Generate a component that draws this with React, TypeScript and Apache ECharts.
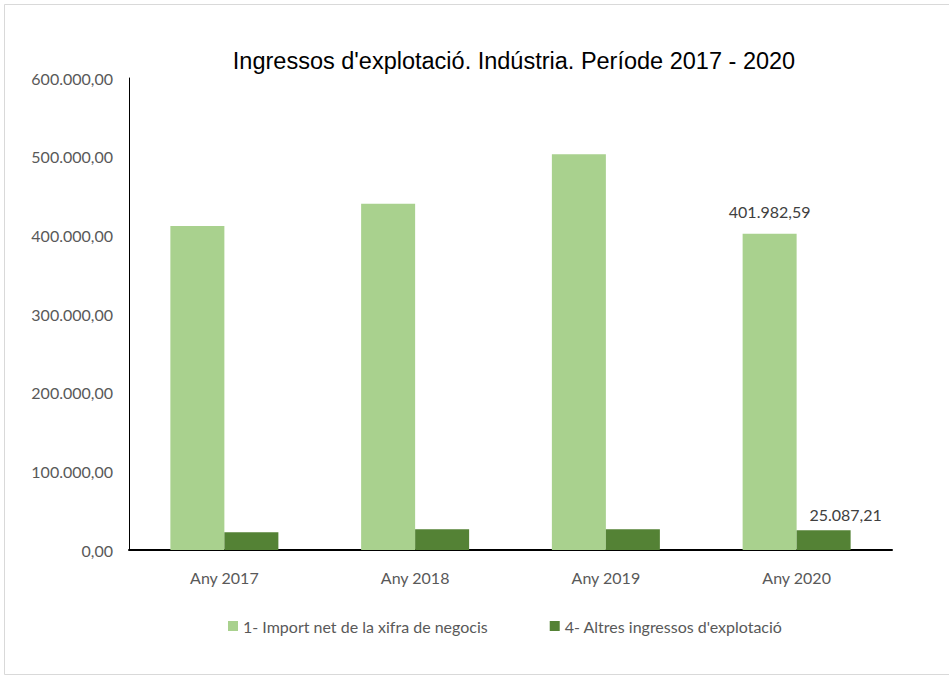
import React, { useEffect, useRef } from "react";
import * as echarts from "echarts";

const categories = ["Any 2017", "Any 2018", "Any 2019", "Any 2020"];
const seriesNames = ["1- Import net de la xifra de negocis", "4- Altres ingressos d'explotació"];
const importNet = [412000, 440000, 503000, 401982.59];
const altres = [22500, 26500, 26500, 25087.21];
const yTicks = [0, 100000, 200000, 300000, 400000, 500000, 600000];
const labelledIndex = 3;

function fmt(v: number): string {
  const fixed = v.toFixed(2);
  const [intPart, dec] = fixed.split(".");
  const withDots = intPart.replace(/\B(?=(\d{3})+(?!\d))/g, ".");
  return withDots + "," + dec;
}

export default function App() {
  const ref = useRef<HTMLDivElement>(null);
  useEffect(() => {
    if (!ref.current) return;
    const chart = echarts.init(ref.current, undefined, { renderer: "svg" });
    const labelFont = "Lato, 'Open Sans', sans-serif";
    chart.setOption({
      animation: false,
      backgroundColor: "#ffffff",
      title: {
        text: "Ingressos d'explotació. Indústria. Període 2017 - 2020",
        left: 509,
        top: 44,
        textAlign: "center",
        textStyle: {
          fontFamily: "'Liberation Sans Narrow', 'Liberation Sans', Arial, sans-serif",
          fontWeight: "normal",
          fontSize: 23.5,
          color: "#000000",
        },
      },
      graphic: [
        {
          type: "rect",
          shape: { x: 4.5, y: 4.5, width: 960, height: 670 },
          style: { fill: "none", stroke: "#d9d9d9", lineWidth: 1 },
          silent: true,
          z: -1,
        },
      ],
      legend: {
        data: seriesNames,
        left: 228,
        top: 618,
        itemWidth: 10,
        itemHeight: 10,
        itemGap: 62,
        icon: "rect",
        textStyle: { fontFamily: labelFont, fontSize: 16, color: "#595959" },
        padding: 0,
        itemStyle: { borderWidth: 0 },
      },
      grid: { left: 129, right: 57, top: 78, bottom: 127, containLabel: false },
      xAxis: {
        type: "category",
        data: categories,
        axisLine: { show: true, lineStyle: { color: "#000000", width: 2 } },
        axisTick: { show: false },
        axisLabel: { fontFamily: labelFont, fontSize: 16, color: "#595959", margin: 19 },
        splitLine: { show: false },
      },
      yAxis: {
        type: "value",
        min: yTicks[0],
        max: yTicks[yTicks.length - 1],
        interval: 100000,
        axisLine: { show: true, lineStyle: { color: "#000000", width: 1 } },
        axisTick: { show: false },
        splitLine: { show: false },
        axisLabel: {
          fontFamily: labelFont,
          fontSize: 16,
          color: "#595959",
          margin: 16,
          formatter: (v: number) => fmt(v),
        },
      },
      series: [
        {
          name: seriesNames[0],
          type: "bar",
          data: importNet.map((v, i) => ({
            value: v,
            label: {
              show: i === labelledIndex,
              position: "top",
              distance: 14,
              formatter: (p: any) => fmt(p.value),
              fontFamily: labelFont,
              fontSize: 16,
              color: "#404040",
            },
          })),
          barWidth: 54,
          barGap: "0%",
          itemStyle: { color: "#a9d18e" },
        },
        {
          name: seriesNames[1],
          type: "bar",
          data: altres.map((v, i) => ({
            value: v,
            label: {
              show: i === labelledIndex,
              position: "top",
              distance: 8,
              offset: [22, 0],
              formatter: (p: any) => fmt(p.value),
              fontFamily: labelFont,
              fontSize: 16,
              color: "#404040",
            },
          })),
          barWidth: 54,
          barGap: "0%",
          itemStyle: { color: "#548235" },
        },
      ],
    });
    return () => chart.dispose();
  }, []);
  return (
    <div
      ref={ref}
      style={{ position: "fixed", left: 0, top: 0, width: 949, height: 677 }}
    />
  );
}
